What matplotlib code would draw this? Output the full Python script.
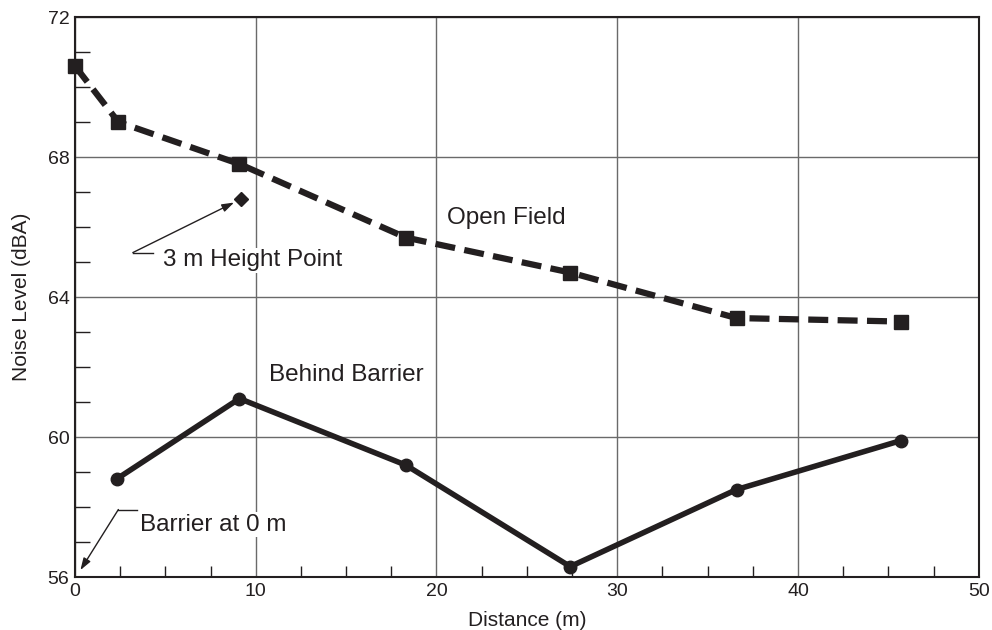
import matplotlib
matplotlib.use("Agg")
import matplotlib.pyplot as plt
from matplotlib.ticker import MultipleLocator

plt.rcParams['font.family'] = ['Liberation Sans', 'DejaVu Sans']

INK = '#231f20'

open_x = [0.0, 2.4, 9.1, 18.3, 27.4, 36.6, 45.7]
open_y = [70.6, 69.0, 67.8, 65.7, 64.7, 63.4, 63.3]

barrier_x = [2.3, 9.1, 18.3, 27.4, 36.6, 45.7]
barrier_y = [58.8, 61.1, 59.2, 56.3, 58.5, 59.9]

height_x = [9.2]
height_y = [66.8]

fig = plt.figure(figsize=(9.92, 6.3), dpi=100)
ax = fig.add_axes([0.0756, 0.084, 0.911, 0.889])

ax.set_xlim(0, 50)
ax.set_ylim(56, 72)
ax.xaxis.set_major_locator(MultipleLocator(10))
ax.xaxis.set_minor_locator(MultipleLocator(2.5))
ax.yaxis.set_major_locator(MultipleLocator(4))
ax.yaxis.set_minor_locator(MultipleLocator(1))
ax.grid(True, which='major', color='#6a6a6a', linewidth=1.0)
ax.set_axisbelow(True)

ax.tick_params(which='both', direction='in', top=False, right=False, colors=INK,
               labelsize=14, width=1.0)
ax.tick_params(which='major', length=0, pad=4)
ax.tick_params(axis='y', which='minor', length=11)
ax.tick_params(axis='x', which='minor', length=8)
for s in ax.spines.values():
    s.set_color(INK)
    s.set_linewidth(1.5)

ax.plot(open_x, open_y, color=INK, linestyle=(0, (3.2, 1.5)), linewidth=4.5,
        marker='s', markersize=10.5, clip_on=False, zorder=5)
ax.plot(barrier_x, barrier_y, color=INK, linestyle='-', linewidth=4.0,
        marker='o', markersize=9, zorder=5)
ax.plot(height_x, height_y, color=INK, linestyle='none', marker='D', markersize=7, zorder=5)

bb = dict(facecolor='white', edgecolor='none', pad=1)
ax.text(20.6, 65.95, 'Open Field', fontsize=17.5, color=INK, va='bottom', ha='left')
ax.text(10.75, 61.45, 'Behind Barrier', fontsize=17.5, color=INK, va='bottom', ha='left')
ax.text(4.85, 65.05, '3 m Height Point', fontsize=17.5, color=INK, va='center', ha='left',
        bbox=bb, zorder=3)
ax.text(3.6, 57.5, 'Barrier at 0 m', fontsize=17.5, color=INK, va='center', ha='left',
        bbox=bb, zorder=3)

# annotation leaders
ax.plot([3.2, 4.3], [65.27, 65.27], color=INK, linewidth=1.0, zorder=4)
ax.annotate('', xy=(8.8, 66.7), xytext=(3.2, 65.27),
            arrowprops=dict(arrowstyle='-|>,head_length=0.6,head_width=0.2', color=INK, lw=1.0,
                            mutation_scale=12, shrinkA=0, shrinkB=0), zorder=4)
ax.plot([2.4, 3.45], [57.93, 57.93], color=INK, linewidth=1.0, zorder=4)
ax.annotate('', xy=(0.3, 56.2), xytext=(2.4, 57.93),
            arrowprops=dict(arrowstyle='-|>,head_length=0.6,head_width=0.2', color=INK, lw=1.0,
                            mutation_scale=12, shrinkA=0, shrinkB=0), zorder=4)

ax.set_xlabel('Distance (m)', fontsize=15, color=INK, labelpad=8)
ax.set_ylabel('Noise Level (dBA)', fontsize=15, color=INK, labelpad=12)

fig.savefig('out.png', dpi=100)
